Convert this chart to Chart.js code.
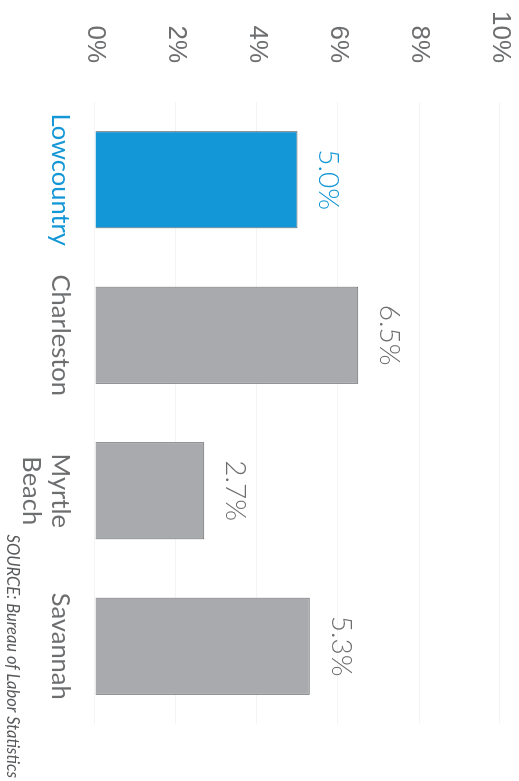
<!DOCTYPE html>
<html>
<head>
<meta charset="utf-8">
<script src="https://cdn.jsdelivr.net/npm/chart.js@4/dist/chart.umd.min.js"></script>
<style>
    html, body {
        margin: 0;
        padding: 0;
        background: #ffffff;
        overflow: hidden;
    }
    #girar {
        position: absolute;
        top: 0;
        left: 0;
        width: 781px;
        height: 519px;
        transform-origin: 0 0;
        transform: translateX(519px) rotate(90deg);
    }
</style>
</head>
<body>
<div id="girar">
    <canvas id="graficoDesempleo" width="781" height="519"></canvas>
</div>
<script>
const regiones = ["Lowcountry", "Charleston", ["Myrtle", "Beach"], "Savannah"];
const desempleo = [5.0, 6.5, 2.7, 5.3];
const etiquetasValor = ["5.0%", "6.5%", "2.7%", "5.3%"];
const marcasEje = [0, 2, 4, 6, 8, 10];
const fuente = "SOURCE: Bureau of Labor Statistics";

const azul = "#1497d6";
const gris = "#a9aaad";
const textoGris = "#6d6e70";

const coloresBarras = regiones.map((r, i) => (i === 0 ? azul : gris));
const coloresTexto = regiones.map((r, i) => (i === 0 ? azul : textoGris));

// escribe el valor encima de cada barra y la fuente abajo
const textosExtra = {
    id: "textosExtra",
    afterDatasetsDraw(chart) {
        const ctx = chart.ctx;
        const barras = chart.getDatasetMeta(0).data;
        ctx.save();
        ctx.font = "300 28px Lato";
        ctx.textAlign = "center";
        ctx.textBaseline = "alphabetic";
        barras.forEach((barra, i) => {
            ctx.fillStyle = coloresTexto[i];
            ctx.fillText(etiquetasValor[i], barra.x, barra.y - 22);
        });
        ctx.font = "italic 16.5px Lato";
        ctx.textAlign = "right";
        ctx.fillStyle = "#58595b";
        ctx.fillText(fuente, chart.width - 3, chart.height - 7);
        ctx.restore();
    },
};

const dataGrafico = {
    labels: regiones,
    datasets: [
        {
            label: "Desempleo",
            backgroundColor: coloresBarras,
            borderColor: "#66676a",
            borderWidth: 1,
            barPercentage: 0.625,
            categoryPercentage: 1,
            data: desempleo,
        },
    ],
};

const configGrafico = {
    type: "bar",
    data: dataGrafico,
    plugins: [textosExtra],
    options: {
        responsive: false,
        animation: false,
        devicePixelRatio: 1,
        layout: {
            padding: { top: 19, right: 57, left: 0, bottom: 22 },
        },
        plugins: {
            legend: { display: false },
            tooltip: { enabled: false },
        },
        scales: {
            x: {
                grid: { display: false },
                border: { display: false },
                ticks: {
                    padding: 12,
                    maxRotation: 0,
                    color: coloresTexto,
                    font: { family: "Lato", size: 25.5, lineHeight: 1.15 },
                },
                afterFit(eje) {
                    eje.height = 73;
                },
            },
            y: {
                min: 0,
                max: 10,
                border: { display: false },
                grid: {
                    color: "rgba(0,0,0,0.045)",
                    drawTicks: false,
                },
                afterBuildTicks(eje) {
                    eje.ticks = marcasEje.map((v) => ({ value: v }));
                },
                ticks: {
                    padding: 39,
                    color: textoGris,
                    font: { family: "Liberation Sans", size: 26 },
                    callback: (v) => v + "%",
                },
                afterFit(eje) {
                    eje.width = 102;
                    eje.paddingTop = 0;
                    eje.paddingBottom = 0;
                },
            },
        },
    },
};

const graficoDesempleo = new Chart(
    document.getElementById("graficoDesempleo"),
    configGrafico
);
</script>
</body>
</html>
